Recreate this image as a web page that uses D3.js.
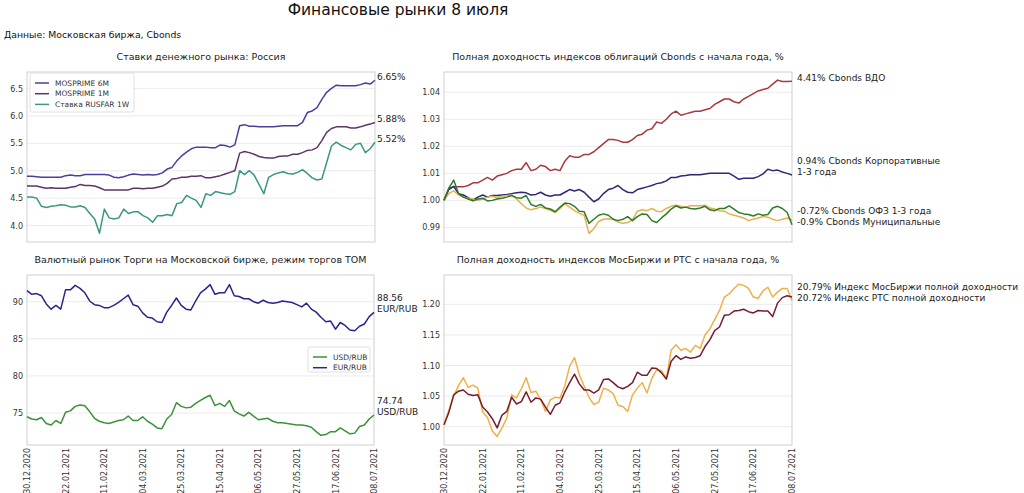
<!DOCTYPE html>
<html><head><meta charset="utf-8">
<script src="https://cdn.jsdelivr.net/npm/d3@7"></script>
<style>body{margin:0;background:#fff;} svg{font-family:"DejaVu Sans",sans-serif;display:block;}</style>
</head><body><svg id="c" width="1024" height="493"></svg>
<script>
// ---------- DATA ----------
const dateTicks = ["30.12.2020","22.01.2021","11.02.2021","04.03.2021","25.03.2021","15.04.2021","06.05.2021","27.05.2021","17.06.2021","08.07.2021"];

const mosprime6m = [4.90,4.90,4.89,4.88,4.88,4.88,4.88,4.88,4.91,4.92,4.91,4.91,4.93,4.93,4.93,4.93,4.93,4.92,4.88,4.87,4.89,4.92,4.94,4.93,4.92,4.93,4.92,4.93,4.96,5.03,5.06,5.18,5.27,5.34,5.40,5.43,5.43,5.43,5.42,5.42,5.47,5.46,5.43,5.47,5.82,5.84,5.81,5.81,5.80,5.80,5.80,5.80,5.81,5.82,5.82,5.82,5.82,5.88,6.06,6.09,6.15,6.30,6.43,6.50,6.56,6.55,6.55,6.55,6.55,6.57,6.60,6.58,6.65];
const mosprime1m = [4.72,4.72,4.72,4.70,4.68,4.69,4.68,4.68,4.68,4.70,4.71,4.75,4.73,4.73,4.72,4.69,4.65,4.65,4.65,4.65,4.65,4.65,4.68,4.68,4.67,4.68,4.68,4.70,4.72,4.77,4.85,4.86,4.88,4.88,4.90,4.90,4.91,4.87,4.87,4.89,4.91,4.94,4.97,5.00,5.32,5.35,5.33,5.30,5.26,5.24,5.23,5.23,5.26,5.27,5.27,5.30,5.30,5.33,5.37,5.38,5.42,5.55,5.70,5.77,5.80,5.80,5.80,5.78,5.78,5.80,5.83,5.85,5.88];
const rusfar1w = [4.52,4.52,4.50,4.35,4.33,4.35,4.36,4.38,4.37,4.34,4.34,4.36,4.33,4.22,4.12,3.86,4.30,4.14,4.12,4.14,4.30,4.22,4.25,4.25,4.18,4.14,4.06,4.18,4.18,4.20,4.18,4.40,4.42,4.55,4.50,4.46,4.33,4.58,4.55,4.62,4.60,4.58,4.57,4.62,5.00,4.93,5.00,4.92,4.75,4.58,4.88,4.93,4.96,4.98,4.95,4.94,4.97,5.02,4.95,4.87,4.83,4.85,5.15,5.45,5.52,5.46,5.42,5.38,5.48,5.50,5.33,5.40,5.52];

const cbondsVdo = [1.0000,1.0045,1.0050,1.0050,1.0050,1.0055,1.0065,1.0065,1.0075,1.0085,1.0075,1.0090,1.0095,1.0100,1.0110,1.0115,1.0115,1.0140,1.0110,1.0115,1.0130,1.0125,1.0110,1.0115,1.0110,1.0145,1.0165,1.0160,1.0160,1.0170,1.0170,1.0180,1.0195,1.0210,1.0225,1.0225,1.0222,1.0215,1.0215,1.0225,1.0240,1.0245,1.0260,1.0265,1.0290,1.0285,1.0300,1.0320,1.0330,1.0315,1.0320,1.0325,1.0330,1.0330,1.0335,1.0340,1.0355,1.0365,1.0375,1.0375,1.0365,1.0360,1.0375,1.0385,1.0395,1.0405,1.0410,1.0415,1.0430,1.0445,1.0440,1.0440,1.0441];
const cbondsCorp = [1.0000,1.0040,1.0052,1.0025,1.0020,1.0010,1.0002,1.0012,1.0020,1.0012,1.0018,1.0018,1.0020,1.0022,1.0025,1.0028,1.0030,1.0028,1.0020,1.0022,1.0030,1.0020,1.0015,1.0020,1.0020,1.0030,1.0040,1.0035,1.0040,1.0030,1.0012,0.9995,1.0005,1.0025,1.0040,1.0045,1.0055,1.0040,1.0030,1.0028,1.0040,1.0045,1.0050,1.0055,1.0062,1.0065,1.0072,1.0085,1.0085,1.0090,1.0092,1.0095,1.0095,1.0095,1.0098,1.0100,1.0100,1.0100,1.0100,1.0100,1.0090,1.0078,1.0082,1.0082,1.0082,1.0088,1.0098,1.0115,1.0110,1.0112,1.0105,1.0100,1.0094];
const cbondsMuni = [1.0000,1.0045,1.0075,1.0025,1.0012,1.0005,0.9998,1.0005,1.0008,0.9998,1.0000,1.0005,1.0008,1.0012,1.0018,1.0010,1.0008,1.0018,0.9985,0.9978,0.9985,0.9972,0.9968,0.9958,0.9975,0.9990,0.9988,0.9978,0.9960,0.9958,0.9915,0.9930,0.9945,0.9950,0.9945,0.9930,0.9925,0.9930,0.9940,0.9925,0.9940,0.9950,0.9948,0.9925,0.9918,0.9935,0.9950,0.9968,0.9980,0.9972,0.9975,0.9970,0.9968,0.9972,0.9978,0.9965,0.9962,0.9970,0.9970,0.9980,0.9968,0.9955,0.9950,0.9948,0.9942,0.9950,0.9945,0.9948,0.9972,0.9978,0.9970,0.9955,0.9910];
const cbondsOfz = [1.0000,1.0025,1.0035,1.0020,1.0012,1.0008,1.0005,1.0000,1.0005,1.0012,1.0015,1.0010,1.0015,1.0018,1.0020,1.0005,0.9988,0.9972,0.9965,0.9970,0.9975,0.9970,0.9963,0.9955,0.9970,0.9988,0.9975,0.9962,0.9952,0.9945,0.9878,0.9895,0.9922,0.9930,0.9932,0.9930,0.9920,0.9915,0.9918,0.9928,0.9960,0.9965,0.9962,0.9970,0.9960,0.9958,0.9970,0.9978,0.9982,0.9978,0.9975,0.9980,0.9980,0.9980,0.9982,0.9972,0.9968,0.9962,0.9960,0.9950,0.9945,0.9940,0.9935,0.9925,0.9930,0.9935,0.9940,0.9938,0.9930,0.9925,0.9930,0.9935,0.9928];

const eurRub = [91.5,91.0,91.1,90.8,89.7,89.0,89.5,89.0,91.6,91.6,92.2,91.8,91.2,90.1,89.6,89.5,89.2,89.2,89.5,89.9,90.4,90.9,89.6,89.4,88.5,87.9,87.8,87.3,87.2,88.6,89.5,90.5,89.5,89.0,88.9,90.1,91.2,91.7,92.3,91.0,91.2,91.2,92.3,90.8,90.7,90.4,90.4,90.0,89.8,90.2,89.9,89.8,89.9,90.1,90.0,89.9,89.6,89.3,89.8,89.0,88.6,87.9,87.3,87.4,86.3,87.2,86.8,86.2,86.1,86.7,87.0,88.0,88.56];
const usdRub = [74.5,74.2,74.1,74.4,73.6,73.4,74.0,73.6,75.1,75.3,75.9,76.1,76.0,75.2,74.3,73.9,73.7,73.6,73.8,74.0,74.1,74.6,74.0,74.0,74.5,73.9,73.5,73.0,72.9,74.2,74.8,76.4,75.9,75.7,75.8,76.3,76.7,77.1,77.4,76.0,76.3,75.9,76.7,75.3,74.9,74.6,75.1,74.6,74.1,74.2,74.3,73.9,73.7,73.7,73.6,73.5,73.4,73.4,73.3,73.1,72.5,72.0,72.1,72.5,72.5,73.0,72.6,72.2,72.3,73.2,73.4,74.2,74.74];

const moexTr = [1.003,1.023,1.052,1.058,1.060,1.053,1.051,1.052,1.032,1.024,1.013,0.998,1.019,1.025,1.048,1.037,1.041,1.057,1.040,1.047,1.045,1.032,1.020,1.035,1.039,1.057,1.072,1.086,1.070,1.060,1.060,1.055,1.060,1.077,1.078,1.072,1.065,1.062,1.066,1.072,1.089,1.084,1.084,1.096,1.095,1.088,1.078,1.107,1.116,1.110,1.114,1.112,1.113,1.116,1.131,1.142,1.157,1.163,1.182,1.183,1.189,1.190,1.192,1.188,1.186,1.190,1.189,1.189,1.180,1.202,1.211,1.214,1.212];
const rtsTr = [1.003,1.027,1.050,1.067,1.080,1.064,1.068,1.063,1.024,1.015,0.993,0.984,0.998,1.014,1.052,1.047,1.062,1.080,1.056,1.058,1.044,1.025,1.044,1.048,1.047,1.067,1.099,1.113,1.085,1.066,1.048,1.036,1.040,1.063,1.060,1.054,1.035,1.033,1.025,1.052,1.063,1.072,1.055,1.079,1.093,1.092,1.078,1.125,1.134,1.125,1.128,1.122,1.133,1.128,1.150,1.160,1.175,1.190,1.212,1.217,1.226,1.233,1.231,1.226,1.212,1.210,1.222,1.228,1.212,1.220,1.226,1.226,1.206];

const mainTitle = "Финансовые рынки 8 июля";
const sourceText = "Данные: Московская биржа, Cbonds";
const panelTitles = ["Ставки денежного рынка: Россия","Полная доходность индексов облигаций Cbonds с начала года, %","Валютный рынок Торги на Московской бирже, режим торгов TOM","Полная доходность индексов МосБиржи и РТС с начала года, %"];

// ---------- LAYOUT / STYLE ----------
const svg = d3.select("#c");
const FONT = "DejaVu Sans, sans-serif";
const LH = 11;

svg.append("text").attr("x",398).attr("y",15).attr("text-anchor","middle")
  .attr("font-size",15.5).attr("fill","#111").text(mainTitle);
svg.append("text").attr("x",4).attr("y",38).attr("font-size",9.3).attr("fill","#111").text(sourceText);

const panels = [
  {x0:27,x1:375,y0:72,y1:242,dom:[3.7,6.8],ticks:[4.0,4.5,5.0,5.5,6.0,6.5],fmt:d3.format(".1f"),title:panelTitles[0],titleY:60,xAxis:false,lblX:377,
   series:[
     {v:mosprime6m,c:"#4a3f9f",name:"MOSPRIME 6M",lbl:["6.65%"]},
     {v:mosprime1m,c:"#5e3468",name:"MOSPRIME 1M",lbl:["5.88%"]},
     {v:rusfar1w,c:"#3a9785",name:"Ставка RUSFAR 1W",lbl:["5.52%"]}],
   legend:{x:30,y:73,w:104,h:39,items:[0,1,2]}},
  {x0:444,x1:792,y0:72,y1:242,dom:[0.9846,1.0475],ticks:[0.99,1.00,1.01,1.02,1.03,1.04],fmt:d3.format(".2f"),title:panelTitles[1],titleY:60,xAxis:false,lblX:797,
   series:[
     {v:cbondsVdo,c:"#a8393c",lbl:["4.41% Cbonds ВДО"]},
     {v:cbondsCorp,c:"#2b2a78",lbl:["0.94% Cbonds Корпоративные","1-3 года"]},
     {v:cbondsOfz,c:"#e8b050",lbl:["-0.72% Cbonds ОФЗ 1-3 года"]},
     {v:cbondsMuni,c:"#2f7a2a",lbl:["-0.9% Cbonds Муниципальные"]}]},
  {x0:27,x1:374,y0:275,y1:445,dom:[70.7,93.6],ticks:[75,80,85,90],fmt:d3.format("d"),title:panelTitles[2],titleY:263,xAxis:true,lblX:377,
   series:[
     {v:usdRub,c:"#3d913a",name:"USD/RUB",lbl:["74.74","USD/RUB"]},
     {v:eurRub,c:"#27268e",name:"EUR/RUB",lbl:["88.56","EUR/RUB"]}],
   legend:{x:308,y:347,w:62,h:25,items:[0,1]}},
  {x0:444,x1:792,y0:275,y1:445,dom:[0.970,1.248],ticks:[1.00,1.05,1.10,1.15,1.20],fmt:d3.format(".2f"),title:panelTitles[3],titleY:263,xAxis:true,lblX:797,
   series:[
     {v:rtsTr,c:"#f0b048",lbl:["20.72% Индекс РТС полной доходности"]},
     {v:moexTr,c:"#771d2e",lbl:["20.79% Индекс МосБиржи полной доходности"]}]}
];

panels.forEach(p => {
  const g = svg.append("g");
  const N = p.series[0].v.length;
  const x = d3.scaleLinear().domain([0, N-1]).range([p.x0, p.x1]);
  const y = d3.scaleLinear().domain(p.dom).range([p.y1, p.y0]);

  // title
  g.append("text").attr("x",(p.x0+p.x1)/2).attr("y",p.titleY).attr("text-anchor","middle")
    .attr("font-size",9.5).attr("fill","#222").text(p.title);

  // grid
  g.selectAll(".grid").data(p.ticks).enter().append("line")
    .attr("x1",p.x0).attr("x2",p.x1).attr("y1",d=>y(d)).attr("y2",d=>y(d))
    .attr("stroke","#e6e6e6").attr("stroke-width",0.8);

  // y axis labels
  const ya = d3.axisLeft(y).tickValues(p.ticks).tickFormat(p.fmt).tickSize(0).tickPadding(4);
  const yg = g.append("g").attr("transform",`translate(${p.x0},0)`).call(ya);
  yg.select(".domain").remove();
  yg.selectAll("text").attr("font-size",8).attr("font-family",FONT).attr("fill","#333");

  // x axis labels
  if (p.xAxis) {
    const tickIdx = dateTicks.map((d,i)=> i*(N-1)/(dateTicks.length-1));
    const xa = d3.axisBottom(x).tickValues(tickIdx).tickFormat((d,i)=>dateTicks[i]).tickSize(0).tickPadding(3);
    const xg = g.append("g").attr("transform",`translate(0,${p.y1})`).call(xa);
    xg.select(".domain").remove();
    xg.selectAll("text").attr("font-size",8).attr("font-family",FONT).attr("fill","#333")
      .attr("transform","rotate(-90)").attr("text-anchor","end").attr("dx","-3").attr("dy","0.32em").attr("y",0).attr("x",0);
  }

  // frame
  g.append("rect").attr("x",p.x0).attr("y",p.y0).attr("width",p.x1-p.x0).attr("height",p.y1-p.y0)
    .attr("fill","none").attr("stroke","#cfcfcf").attr("stroke-width",1);

  // lines
  const line = d3.line().x((d,i)=>x(i)).y(d=>y(d));
  p.series.forEach(s => {
    g.append("path").datum(s.v).attr("d",line).attr("fill","none")
      .attr("stroke",s.c).attr("stroke-width",1.5).attr("stroke-linejoin","round");
  });

  // end labels with simple collision avoidance
  const labs = p.series.map(s => ({lines:s.lbl, base:y(s.v[s.v.length-1])}));
  labs.sort((a,b)=>b.base-a.base);
  for (let i=1;i<labs.length;i++){
    const prev = labs[i-1];
    const lim = prev.base - (prev.lines.length)*LH;
    if (labs[i].base > lim) labs[i].base = lim;
  }
  labs.forEach(l => {
    const n = l.lines.length;
    l.lines.forEach((t,k)=>{
      g.append("text").attr("x",p.lblX).attr("y",l.base - (n-1-k)*LH)
        .attr("font-size",9).attr("fill","#222").text(t);
    });
  });

  // legend
  if (p.legend) {
    const L = p.legend;
    g.append("rect").attr("x",L.x).attr("y",L.y).attr("width",L.w).attr("height",L.h)
      .attr("rx",2).attr("fill","#fff").attr("fill-opacity",0.9).attr("stroke","#e0e0e0");
    L.items.forEach((si,k)=>{
      const s = p.series[si];
      const cy = L.y + 10 + k*10.7;
      g.append("line").attr("x1",L.x+5).attr("x2",L.x+19).attr("y1",cy).attr("y2",cy)
        .attr("stroke",s.c).attr("stroke-width",1.5);
      g.append("text").attr("x",L.x+25).attr("y",cy).attr("dy","0.35em")
        .attr("font-size",7.5).attr("fill","#333").text(s.name);
    });
  }
});
</script></body></html>
